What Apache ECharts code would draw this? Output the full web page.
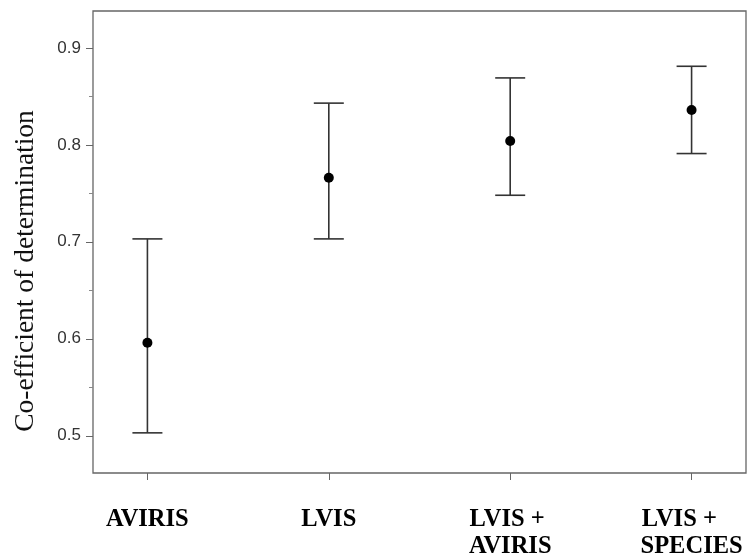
<!DOCTYPE html>
<html>
<head>
<meta charset="utf-8">
<script src="https://cdn.jsdelivr.net/npm/echarts@6/dist/echarts.min.js"></script>
<style>html,body{margin:0;padding:0;background:#fff}#c{width:754px;height:560px}</style>
</head>
<body>
<div id="c"></div>
<script>
var categories = ['AVIRIS', 'LVIS', 'LVIS + \nAVIRIS', 'LVIS +    \nSPECIES'];
var means = [0.596, 0.766, 0.804, 0.836];
var lowers = [0.503, 0.703, 0.748, 0.791];
var uppers = [0.703, 0.843, 0.869, 0.881];
var yMajorTicks = [0.5, 0.6, 0.7, 0.8, 0.9];
var yMinorTicks = [0.55, 0.65, 0.75, 0.85];
var xPositions = [1, 2, 3, 4];

var chart = echarts.init(document.getElementById('c'), null, {renderer: 'canvas'});
var errData = xPositions.map(function (x, i) { return [x, lowers[i], uppers[i]]; });
var ptData = xPositions.map(function (x, i) { return [x, means[i]]; });

var option = {
  animation: false,
  grid: {left: 93, right: 8, top: 11, bottom: 86, show: true, borderColor: '#666', borderWidth: 1.3, backgroundColor: 'transparent'},
  xAxis: {
    type: 'value', min: 0.7, max: 4.3,
    axisLine: {show: false},
    splitLine: {show: false},
    axisTick: {show: true, customValues: xPositions, length: 7, lineStyle: {color: '#666', width: 1}},
    axisLabel: {
      customValues: xPositions,
      margin: 33,
      formatter: function (v) { return categories[Math.round(v) - 1]; },
      fontFamily: '"Liberation Serif", "Times New Roman", serif',
      fontWeight: 'bold', fontSize: 24.5, lineHeight: 27, color: '#000'
    }
  },
  yAxis: [{
    type: 'value', min: 0.4616, max: 0.938,
    axisLine: {show: false},
    splitLine: {show: false},
    axisTick: {show: true, customValues: yMajorTicks, length: 7, lineStyle: {color: '#666', width: 1}},
    axisLabel: {
      customValues: yMajorTicks, margin: 12,
      formatter: function (v) { return v.toFixed(1); },
      fontFamily: '"Liberation Sans", Arial, sans-serif', fontSize: 17, color: '#333'
    }
  }, {
    type: 'value', min: 0.4616, max: 0.938, position: 'left',
    axisLine: {show: false},
    splitLine: {show: false},
    axisTick: {show: true, customValues: yMinorTicks, length: 4, lineStyle: {color: '#888', width: 1}},
    axisLabel: {show: false}
  }],
  graphic: [{
    type: 'text', x: 26, y: 271, rotation: Math.PI / 2,
    style: {
      text: 'Co-efficient of determination',
      font: '27.5px "Liberation Serif", "Times New Roman", serif',
      fill: '#111', textAlign: 'center', textVerticalAlign: 'middle'
    }
  }],
  series: [{
    type: 'custom',
    data: errData,
    renderItem: function (params, api) {
      var x = api.value(0);
      var lo = api.coord([x, api.value(1)]);
      var hi = api.coord([x, api.value(2)]);
      var hw = 15;
      var st = {stroke: '#333', lineWidth: 1.6};
      return {
        type: 'group',
        children: [
          {type: 'line', shape: {x1: lo[0], y1: lo[1], x2: hi[0], y2: hi[1]}, style: st},
          {type: 'line', shape: {x1: hi[0] - hw, y1: hi[1], x2: hi[0] + hw, y2: hi[1]}, style: st},
          {type: 'line', shape: {x1: lo[0] - hw, y1: lo[1], x2: lo[0] + hw, y2: lo[1]}, style: st}
        ]
      };
    },
    z: 2
  }, {
    type: 'scatter',
    data: ptData,
    symbol: 'circle',
    symbolSize: 10,
    itemStyle: {color: '#000', opacity: 1},
    z: 3
  }]
};
chart.setOption(option);
</script>
</body>
</html>
